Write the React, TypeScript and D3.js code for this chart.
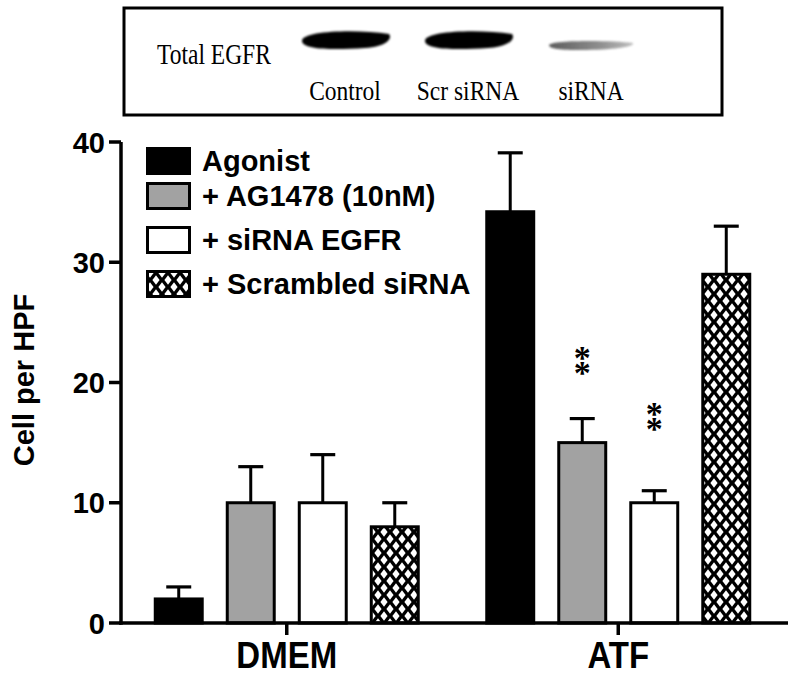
import React from "react";
import * as d3 from "d3";

const groups = ["DMEM", "ATF"];
const seriesNames = ["Agonist", "+ AG1478 (10nM)", "+ siRNA EGFR", "+ Scrambled siRNA"];
const seriesFills = ["#000000", "#a2a2a2", "#ffffff", "url(#hatch)"];
const dmemMeans = [2, 10, 10, 8];
const dmemErrors = [1, 3, 4, 2];
const atfMeans = [34.2, 15, 10, 29];
const atfErrors = [4.9, 2, 1, 4];
const yTicks = [0, 10, 20, 30, 40];

// significance marks (** stacked), top position in data units
const sigGroup = ["ATF", "ATF"];
const sigSeries = [1, 2];
const sigTop = [23.6, 19.0];
const sigText = ["**", "**"];

// western blot panel
const blotTitle = "Total EGFR";
const blotLabels = ["Control", "Scr siRNA", "siRNA"];
const blotIntensity = [1, 1, 0.45];

const W = 800;
const H = 678;

export default function App() {
  const y = d3.scaleLinear().domain([0, 40]).range([623, 142]);
  const xg = d3.scaleBand().domain(groups).range([121, 784]).padding(0);
  const xs = d3
    .scaleBand()
    .domain(d3.range(seriesNames.length).map(String))
    .range([-133, 133])
    .paddingInner(0.306)
    .paddingOuter(0);
  const bw = xs.bandwidth();

  const rows = groups.flatMap((g, gi) => {
    const means = gi === 0 ? dmemMeans : atfMeans;
    const errs = gi === 0 ? dmemErrors : atfErrors;
    return means.map((m, si) => ({ g, si, m, e: errs[si] }));
  });

  const barX = (g: string, si: number) =>
    (xg(g) as number) + xg.bandwidth() / 2 + (xs(String(si)) as number);

  const legendTops = [147, 182, 226, 270];

  const blotX = d3.scalePoint().domain(blotLabels).range([345, 591]);

  const bold = "'Liberation Sans', Arial, sans-serif";
  const serif = "'Liberation Serif', 'Times New Roman', serif";

  return (
    <svg
      width={W}
      height={H}
      viewBox={`0 0 ${W} ${H}`}
      style={{ position: "absolute", left: 0, top: 0, background: "#fff" }}
    >
      <defs>
        <pattern id="hatch" patternUnits="userSpaceOnUse" width="12" height="14">
          <rect width="12" height="14" fill="#000" />
          <path d="M6 2.2 L9.6 7 L6 11.8 L2.4 7 Z" fill="#fff" />
          <path d="M0 -4.8 L3.6 0 L0 4.8 L-3.6 0 Z" fill="#fff" />
          <path d="M12 -4.8 L15.6 0 L12 4.8 L8.4 0 Z" fill="#fff" />
          <path d="M0 9.2 L3.6 14 L0 18.8 L-3.6 14 Z" fill="#fff" />
          <path d="M12 9.2 L15.6 14 L12 18.8 L8.4 14 Z" fill="#fff" />
        </pattern>
        <filter id="blur" x="-20%" y="-60%" width="140%" height="220%">
          <feGaussianBlur stdDeviation="1.3" />
        </filter>
        <linearGradient id="fade" x1="0" x2="1" y1="0" y2="0">
          <stop offset="0" stopColor="#555" />
          <stop offset="0.6" stopColor="#888" />
          <stop offset="1" stopColor="#bbb" />
        </linearGradient>
      </defs>

      {/* Western blot panel */}
      <rect x={124} y={8} width={598} height={107} fill="#fff" stroke="#000" strokeWidth={3} />
      <text
        x={157}
        y={0}
        transform="translate(0,64) scale(1,1.25)"
        fontFamily={serif}
        fontSize={23.5}
        fill="#000"
      >
        {blotTitle}
      </text>
      {blotLabels.map((l, i) => {
        const cx = blotX(l) as number;
        const strong = blotIntensity[i] > 0.8;
        return (
          <g key={l}>
            {strong ? (
              <path
                d={`M${cx - 43} ${41} C ${cx - 43} ${31}, ${cx + 10} ${29}, ${cx + 44} ${34} C ${cx + 48} ${39}, ${cx + 40} ${47}, ${cx + 20} ${48} C ${cx - 10} ${50}, ${cx - 43} ${50}, ${cx - 43} ${41} Z`}
                fill="#000"
                filter="url(#blur)"
              />
            ) : (
              <path
                d={`M${cx - 42} ${45} C ${cx - 40} ${40}, ${cx + 20} ${40}, ${cx + 42} ${43} C ${cx + 44} ${47}, ${cx + 20} ${50}, ${cx - 10} ${50} C ${cx - 30} ${50}, ${cx - 42} ${49}, ${cx - 42} ${45} Z`}
                fill="url(#fade)"
                opacity={0.5 + blotIntensity[i]}
                filter="url(#blur)"
              />
            )}
            <text
              x={0}
              y={0}
              transform={`translate(${cx},100) scale(1,1.2)`}
              textAnchor="middle"
              fontFamily={serif}
              fontSize={23.5}
              fill="#000"
            >
              {l}
            </text>
          </g>
        );
      })}

      {/* Bars */}
      {rows.map((r) => {
        const x0 = barX(r.g, r.si);
        const top = y(r.m);
        const cap = y(r.m + r.e);
        const cx = x0 + bw / 2;
        return (
          <g key={`${r.g}-${r.si}`}>
            <line x1={cx} x2={cx} y1={top} y2={cap} stroke="#000" strokeWidth={3} />
            <line x1={cx - bw / 4} x2={cx + bw / 4} y1={cap} y2={cap} stroke="#000" strokeWidth={3.2} />
            <rect
              x={x0 + 1.5}
              y={top}
              width={bw - 3}
              height={y(0) - top}
              fill={seriesFills[r.si]}
              stroke="#000"
              strokeWidth={3}
            />
          </g>
        );
      })}

      {/* significance asterisks, stacked vertically in one text */}
      {sigTop.map((v, i) => {
        const cx = barX(sigGroup[i], sigSeries[i]) + bw / 2;
        return (
          <text
            key={`sig${i}`}
            x={cx}
            y={y(v)}
            fontFamily={serif}
            fontWeight="bold"
            fontSize={34}
            fill="#000"
            style={{ writingMode: "vertical-rl", textOrientation: "upright", letterSpacing: "-22px" } as any}
          >
            {sigText[i]}
          </text>
        );
      })}

      {/* Axes */}
      <line x1={121} x2={121} y1={y(40)} y2={y(0) + 1.8} stroke="#000" strokeWidth={3.5} />
      <line x1={119.3} x2={788} y1={y(0)} y2={y(0)} stroke="#000" strokeWidth={3.5} />
      {yTicks.map((t) => (
        <g key={t}>
          <line x1={109} x2={121} y1={y(t)} y2={y(t)} stroke="#000" strokeWidth={3.5} />
          <text
            x={105}
            y={y(t) + 10.5}
            textAnchor="end"
            fontFamily={bold}
            fontWeight="bold"
            fontSize={29}
            fill="#000"
          >
            {t}
          </text>
        </g>
      ))}
      {groups.map((g) => {
        const cx = (xg(g) as number) + xg.bandwidth() / 2;
        return (
          <g key={g}>
            <line x1={cx} x2={cx} y1={y(0)} y2={y(0) + 12} stroke="#000" strokeWidth={3.5} />
            <text
              x={0}
              y={0}
              transform={`translate(${cx},668) scale(1,1.1)`}
              textAnchor="middle"
              fontFamily={bold}
              fontWeight="bold"
              fontSize={33}
              fill="#000"
            >
              {g}
            </text>
          </g>
        );
      })}
      <text
        transform="translate(34,380) rotate(-90)"
        textAnchor="middle"
        fontFamily={bold}
        fontWeight="bold"
        fontSize={29}
        fill="#000"
      >
        Cell per HPF
      </text>

      {/* Legend */}
      {seriesNames.map((s, i) => (
        <g key={s}>
          <rect
            x={147.5}
            y={legendTops[i] + 1.5}
            width={42}
            height={25}
            fill={seriesFills[i]}
            stroke="#000"
            strokeWidth={3}
          />
          <text
            x={202}
            y={legendTops[i] + 24}
            fontFamily={bold}
            fontWeight="bold"
            fontSize={29}
            fill="#000"
          >
            {s}
          </text>
        </g>
      ))}
    </svg>
  );
}
